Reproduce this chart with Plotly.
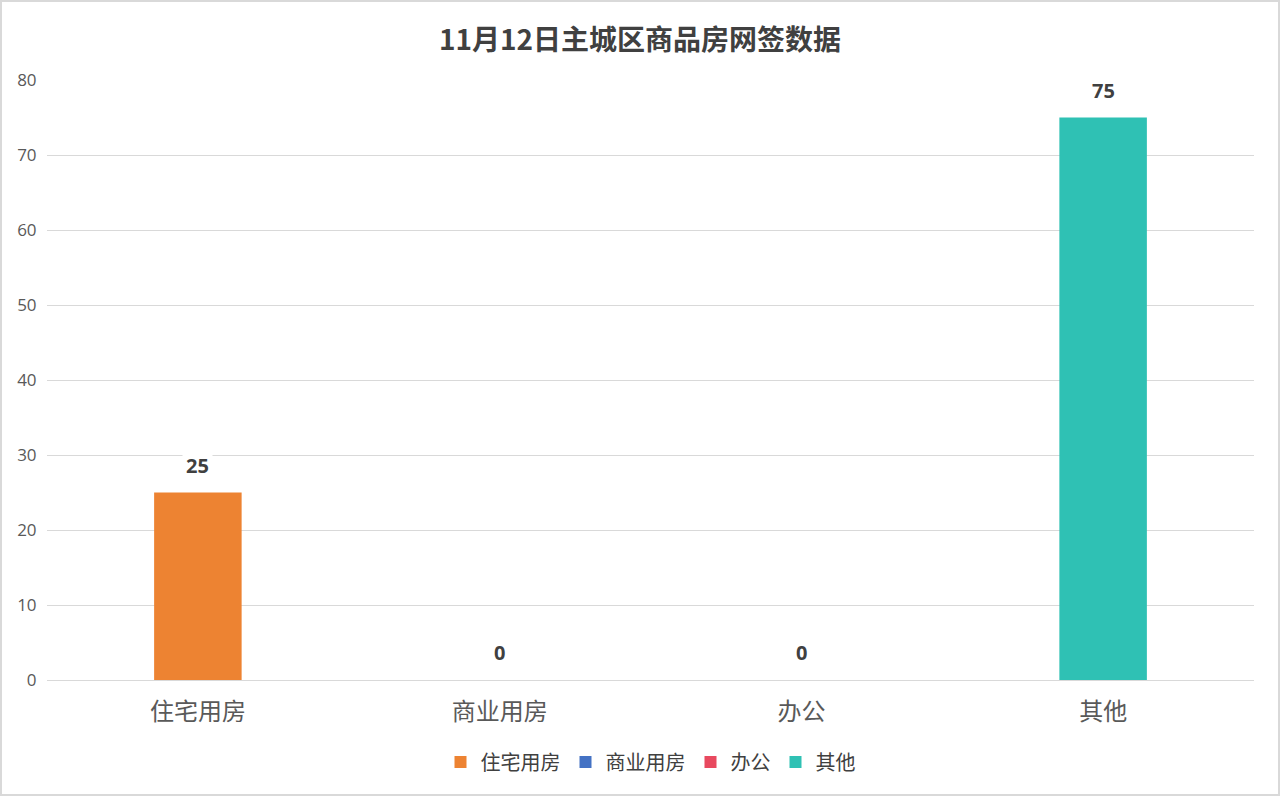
import plotly.graph_objects as go

categories = ["住宅用房", "商业用房", "办公", "其他"]
values = [25, 0, 0, 75]
colors = ["#ed8332", "#4472c4", "#e8495f", "#2fc1b4"]
y_ticks = [0, 10, 20, 30, 40, 50, 60, 70, 80]

W, H = 1280, 796
ml, mr, mt, mb = 47, 26, 80, 116
pw, ph = W - ml - mr, H - mt - mb

fig = go.Figure()
for cat, val, col in zip(categories, values, colors):
    fig.add_trace(go.Bar(
        x=[cat], y=[val], name=cat,
        marker=dict(color=col, line=dict(width=0)), width=0.29,
    ))
    # value label with white box, like the original data labels
    fig.add_annotation(x=cat, y=val, text="<b>%d</b>" % val,
                       showarrow=False, yanchor="bottom", yshift=10,
                       bgcolor="white", borderpad=3,
                       font=dict(size=20, color="#404040", family="Open Sans"))

# chart border
fig.add_shape(type="rect", xref="paper", yref="paper",
              x0=-(ml - 1) / pw, x1=1 + (mr - 1) / pw,
              y0=-(mb - 1) / ph, y1=1 + (mt - 1) / ph,
              line=dict(color="#d9d9d9", width=2), layer="below")

fig.update_layout(
    width=W, height=H,
    margin=dict(l=ml, r=mr, t=mt, b=mb),
    plot_bgcolor="white", paper_bgcolor="white",
    barmode="overlay",
    title=dict(text="<b>11月12日主城区商品房网签数据</b>", x=0.5, xanchor="center",
               y=1 - 40 / H, yanchor="middle",
               font=dict(size=28, color="#404040", family="Noto Sans CJK SC")),
    font=dict(family="Noto Sans CJK SC", color="#595959"),
    xaxis=dict(categoryorder="array", categoryarray=categories,
               tickfont=dict(size=24, color="#595959"),
               showline=True, linecolor="#d9d9d9", linewidth=1, ticks="",
               ticklabelstandoff=10, showgrid=False),
    yaxis=dict(range=[0, 80], tickvals=y_ticks, showgrid=True,
               gridcolor="#d9d9d9", gridwidth=1, zeroline=False,
               tickfont=dict(size=17, color="#595959", family="Open Sans"),
               ticks="outside", ticklen=6, tickcolor="white"),
    legend=dict(orientation="h", x=0.5, xanchor="center",
                y=-(762 - 680) / ph, yanchor="middle",
                font=dict(size=20, color="#404040"),
                itemwidth=30, itemclick=False),
    showlegend=True,
)

fig.write_html("out.html", config={"displayModeBar": False},
               post_script="document.body.style.margin='0';")
